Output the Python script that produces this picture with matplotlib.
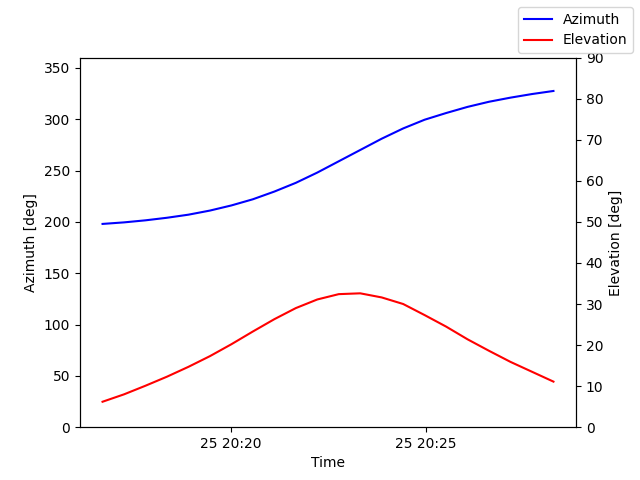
import numpy as np
import pandas as pd
import matplotlib
matplotlib.use("Agg")
import matplotlib.pyplot as plt

times = pd.date_range("2024-01-25 20:16:43", periods=22, freq="33s")
azimuth = [198, 199.5, 201.5, 204, 207, 211, 216, 222, 229.5, 238, 248, 259,
           270, 281, 291, 299.5, 306, 312, 317, 321, 324.5, 327.5]
elevation = [6.2, 8.0, 10.1, 12.3, 14.7, 17.3, 20.2, 23.3, 26.3, 29.0, 31.1, 32.4,
             32.6, 31.6, 30.0, 27.3, 24.5, 21.4, 18.6, 15.9, 13.5, 11.1]

fig, ax1 = plt.subplots(figsize=(6.4, 4.8))
ax1.plot(times, azimuth, color="blue", label="Azimuth")
ax1.set_ylim(0, 360)
ax1.set_xlabel("Time")
ax1.set_ylabel("Azimuth [deg]")

ax2 = ax1.twinx()
ax2.plot(times, elevation, color="red", label="Elevation")
ax2.set_ylim(0, 90)
ax2.set_ylabel("Elevation [deg]")

fig.legend(loc="upper right")
fig.savefig("out.png", dpi=100)
